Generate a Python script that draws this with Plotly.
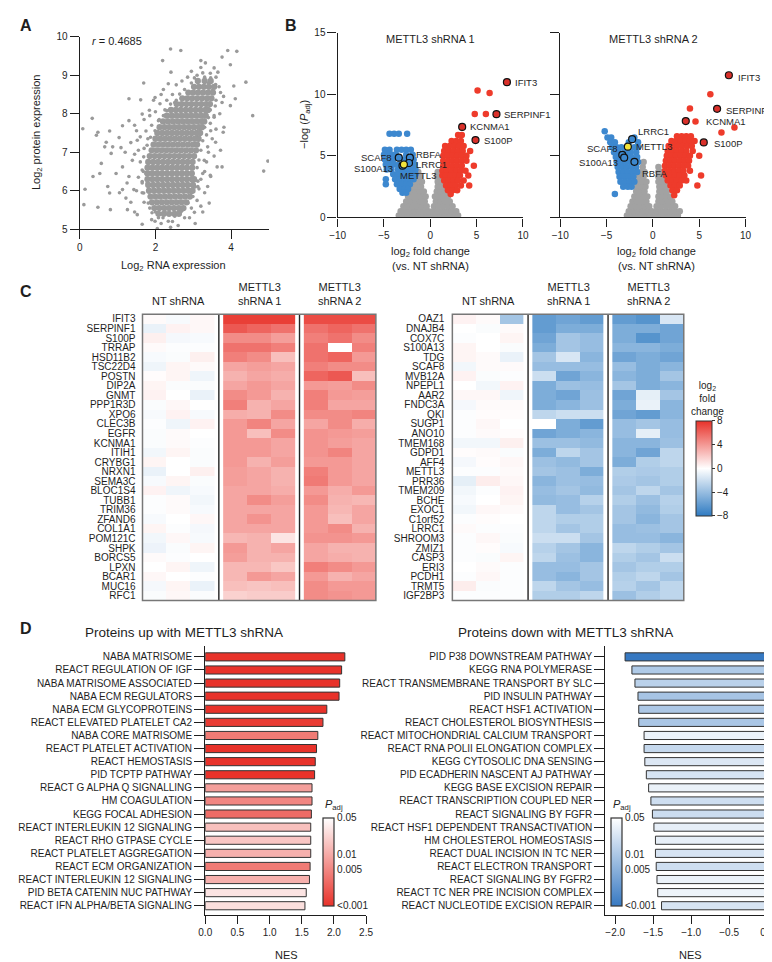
import math
import plotly.graph_objects as go

W, H = 772, 962
FONT = "Liberation Sans, Arial, sans-serif"
INK = "#1e1e1e"

def fx(p):
    return p / W

def fy(p):
    return 1 - p / H

def dom_x(a, b):
    return [fx(a), fx(b)]

def dom_y(top, bottom):
    return [fy(bottom), fy(top)]

# ---------------- Panel A data (RNA vs protein) ----------------
core_rows = [
    (5.40, [2.08, 2.22, 2.36, 2.50, 2.62]),
    (5.55, [1.97, 2.10, 2.23, 2.36, 2.49, 2.62, 2.74]),
    (5.70, [1.91, 2.04, 2.17, 2.30, 2.43, 2.56, 2.69, 2.82]),
    (5.85, [1.87, 2.00, 2.13, 2.26, 2.39, 2.52, 2.65, 2.78, 2.91]),
    (6.00, [1.83, 1.96, 2.09, 2.22, 2.35, 2.48, 2.61, 2.74, 2.87, 2.98]),
    (6.15, [1.81, 1.94, 2.07, 2.20, 2.33, 2.46, 2.59, 2.72, 2.85, 2.99]),
    (6.30, [1.79, 1.92, 2.05, 2.18, 2.31, 2.44, 2.57, 2.70, 2.83, 2.96, 3.02]),
    (6.45, [1.79, 1.92, 2.05, 2.18, 2.31, 2.44, 2.57, 2.70, 2.83, 2.96]),
    (6.60, [1.79, 1.92, 2.05, 2.18, 2.31, 2.44, 2.57, 2.70, 2.83, 2.97]),
    (6.75, [1.81, 1.94, 2.07, 2.20, 2.33, 2.46, 2.59, 2.72, 2.85, 2.98]),
    (6.90, [1.85, 1.98, 2.11, 2.24, 2.37, 2.50, 2.63, 2.76, 2.89, 3.02]),
    (7.05, [1.90, 2.03, 2.16, 2.29, 2.42, 2.55, 2.68, 2.81, 2.94, 3.07]),
    (7.20, [1.95, 2.08, 2.21, 2.34, 2.47, 2.60, 2.73, 2.86, 2.99, 3.10]),
    (7.35, [2.00, 2.13, 2.26, 2.39, 2.52, 2.65, 2.78, 2.91, 3.04, 3.14]),
    (7.50, [2.05, 2.18, 2.31, 2.44, 2.57, 2.70, 2.83, 2.96, 3.09, 3.18]),
    (7.65, [2.11, 2.24, 2.37, 2.50, 2.63, 2.76, 2.89, 3.02, 3.15, 3.23]),
    (7.80, [2.20, 2.33, 2.46, 2.59, 2.72, 2.85, 2.98, 3.11, 3.24, 3.29]),
    (7.95, [2.30, 2.43, 2.56, 2.69, 2.82, 2.95, 3.08, 3.21, 3.33]),
    (8.10, [2.41, 2.54, 2.67, 2.80, 2.93, 3.06, 3.19, 3.32, 3.39]),
    (8.25, [2.56, 2.69, 2.82, 2.95, 3.08, 3.21, 3.34, 3.44]),
    (8.40, [2.71, 2.84, 2.97, 3.10, 3.23, 3.36, 3.48]),
    (8.55, [2.87, 3.00, 3.13, 3.26, 3.39, 3.52]),
    (8.70, [3.02, 3.15, 3.28, 3.41, 3.55]),
    (8.85, [3.12, 3.30, 3.46]),
]

sparse_rna = [2.40, 2.67, 3.91, 4.15, 2.19, 1.69, 4.39, 4.57, 4.97, 4.86, 0.33, 0.08, 0.48, 0.44, 0.79,
              0.70, 0.66, 0.87, 1.04, 0.83, 1.09, 0.57, 0.35, 0.53, 0.74, 0.79, 0.14, 0.11, 0.48, 0.81,
              1.13, 0.96, 1.30, 1.13, 1.39, 1.22, 1.26, 1.52, 1.65, 1.43, 1.50, 1.30, 1.65, 1.84, 1.13,
              1.52, 1.30, 1.61, 1.99, 2.12, 2.21, 2.34, 2.41, 3.20, 3.32, 3.55, 3.65, 3.76, 3.98, 4.07,
              4.11, 3.98, 3.81, 3.79, 3.59, 3.72, 3.63, 3.76, 3.46, 3.38, 3.42, 3.20, 3.03, 2.77, 2.51,
              2.08, 1.91, 1.81, 1.69, 1.65, 1.65, 1.69, 1.78, 1.87, 1.99, 2.08, 2.21, 2.30, 2.51, 2.64,
              2.77, 2.95, 3.03, 3.25, 3.46, 3.59, 3.72, 3.76, 3.55, 3.46, 3.38, 3.29, 3.25, 3.12, 2.99,
              2.86, 2.25, 1.78, 1.75, 1.99, 2.34, 2.69,
              1.05, 1.35, 1.45, 1.25, 1.55, 1.50, 1.60, 1.45, 1.20, 1.35, 1.55, 1.60, 1.75, 1.45, 1.70,
              1.85, 2.00, 1.95, 2.15, 2.30, 2.45, 2.55, 2.70, 2.85, 2.95, 3.10, 3.20, 3.45, 3.60, 3.68,
              3.80, 3.60, 3.70, 3.55, 3.45, 3.60, 3.50, 3.35, 3.40, 3.55, 3.35, 3.30, 3.45, 3.20, 3.15,
              3.30, 3.10, 3.25, 2.95, 2.90, 2.60, 2.45, 2.20, 2.00, 1.85, 1.70, 1.65, 2.15, 2.60, 2.05,
              2.40, 1.90, 3.05, 1.68, 1.65, 1.70, 1.80, 1.90, 2.10, 2.25, 2.40, 2.55, 3.50, 3.40, 3.30,
              3.58, 3.45, 3.40, 3.30, 3.25, 3.20, 3.15, 3.10, 3.12, 3.05, 2.95]
sparse_protein = [9.68, 9.64, 9.64, 9.62, 9.38, 8.80, 8.82, 7.95, 6.77, 6.51, 7.88, 7.61, 7.52, 7.44, 7.55,
                  7.26, 7.14, 7.14, 7.38, 6.97, 7.12, 6.71, 6.37, 6.45, 6.11, 5.94, 6.04, 5.64, 5.57, 5.51,
                  6.03, 6.45, 6.37, 6.62, 6.79, 5.81, 5.51, 5.38, 5.13, 6.03, 7.56, 7.82, 7.99, 8.09, 7.69,
                  7.31, 8.39, 8.36, 8.42, 8.26, 8.63, 8.78, 9.08, 9.38, 9.32, 9.19, 9.08, 9.47, 9.27, 8.72,
                  8.39, 8.21, 7.65, 7.52, 7.26, 7.05, 6.62, 6.62, 6.37, 6.11, 5.68, 5.60, 5.44, 5.30, 5.34,
                  5.30, 5.43, 5.68, 5.94, 6.24, 6.54, 6.88, 7.18, 7.39, 7.56, 7.82, 7.95, 8.08, 8.29, 8.51,
                  8.63, 8.80, 8.93, 9.06, 8.93, 8.76, 8.55, 8.29, 7.91, 7.56, 7.14, 6.79, 6.45, 6.11, 5.85,
                  5.68, 5.47, 6.20, 6.45, 5.21, 5.21, 5.47,
                  5.95, 5.70, 5.45, 6.20, 6.35, 6.00, 6.75, 6.95, 7.00, 7.25, 7.05, 7.40, 7.55, 7.70, 7.85,
                  7.95, 8.05, 8.35, 8.50, 8.35, 8.50, 8.75, 8.85, 8.95, 9.10, 9.00, 9.20, 9.05, 8.95, 8.70,
                  8.45, 8.35, 8.00, 7.95, 7.75, 7.60, 7.35, 7.45, 7.00, 6.90, 6.75, 6.50, 6.40, 6.30, 6.05,
                  5.95, 5.75, 5.45, 5.55, 5.30, 5.45, 5.20, 5.30, 5.45, 5.55, 5.70, 5.95, 5.15, 5.10, 5.02,
                  5.05, 5.25, 5.15, 6.50, 6.20, 7.10, 7.35, 7.70, 7.85, 8.10, 8.25, 8.35, 8.60, 8.80, 8.95,
                  8.20, 8.10, 7.90, 7.65, 7.30, 7.05, 6.80, 6.60, 6.25, 6.10, 5.95]
r_value = 0.4685

# ---------------- Panel B data (volcano plots) ----------------
v1_grey_rows = [
    (0.15, [-3.4, -2.9, -2.4, -1.9, -1.4, -0.9, -0.4, 0.1, 0.6, 1.1, 1.6, 2.1, 2.6, 3.0]),
    (0.50, [-3.2, -2.7, -2.2, -1.7, -1.2, -0.7, -0.2, 0.3, 0.8, 1.3, 1.8, 2.3, 2.8]),
    (0.90, [-2.9, -2.4, -1.9, -1.4, -0.9, -0.4, 0.4, 0.9, 1.4, 1.9, 2.4]),
    (1.30, [-2.6, -2.1, -1.6, -1.1, -0.6, 0.6, 1.1, 1.6, 2.1]),
    (1.70, [-2.4, -1.9, -1.4, -0.9, -0.5, 0.5, 0.9, 1.4, 1.9]),
    (2.10, [-2.1, -1.6, -1.1, -0.7, 0.7, 1.1, 1.6]),
    (2.50, [-1.9, -1.4, -1.0, 0.8, 1.2, 1.5]),
    (2.90, [-1.7, -1.3, -0.9, 0.8, 1.2]),
    (3.30, [-1.5, -1.1, 0.7, 1.1]),
    (3.70, [-1.3, 0.8]),
]
v1_blue_rows = [
    (6.80, [-4.4, -3.9, -3.4, -2.5]),
    (5.50, [-4.9, -4.4, -3.6, -3.1, -2.6, -2.1]),
    (5.10, [-5.0, -4.6, -4.1, -3.7, -2.6, -1.9]),
    (4.70, [-4.9, -4.4, -4.0, -2.8, -1.8]),
    (4.30, [-4.8, -4.3, -3.9, -3.4, -2.4, -1.7]),
    (3.90, [-4.7, -4.2, -3.5, -3.0, -2.5, -2.0, -1.6]),
    (3.50, [-4.0, -3.5, -3.0, -2.5, -2.0, -1.6]),
    (3.10, [-4.8, -3.8, -3.3, -2.8, -2.3, -1.8]),
    (2.70, [-4.8, -3.6, -3.1, -2.6, -2.2]),
    (2.30, [-3.3, -2.8, -2.4]),
    (2.00, [-3.0, -2.6]),
]
v1_red_rows = [
    (10.3, [5.1]), (10.1, [6.4]), (8.4, [4.8, 6.0]),
    (6.7, [3.0, 3.4]),
    (6.2, [2.3, 2.8, 3.3]),
    (5.8, [1.6, 2.1, 2.6, 3.1, 3.6]),
    (5.4, [1.5, 2.0, 2.5, 3.0, 3.5, 4.3]),
    (5.0, [1.4, 1.9, 2.4, 2.9, 3.4, 3.9]),
    (4.6, [1.4, 1.9, 2.4, 2.9, 3.4, 3.9]),
    (4.2, [1.4, 1.9, 2.4, 2.9, 3.4, 4.7]),
    (3.8, [1.3, 1.8, 2.3, 2.8, 3.3, 3.8]),
    (3.4, [1.3, 1.7, 2.2, 2.7, 3.2, 4.1]),
    (3.0, [1.5, 2.0, 2.5, 3.0, 3.6]),
    (2.6, [1.7, 2.2, 2.7, 3.3, 4.2]),
    (2.2, [1.9, 2.4, 2.9]),
    (1.9, [2.2]),
]
v2_grey_rows = [
    (0.15, [-2.8, -2.3, -1.8, -1.3, -0.8, -0.3, 0.2, 0.7, 1.2, 1.7, 2.2, 2.7]),
    (0.50, [-2.6, -2.1, -1.6, -1.1, -0.6, -0.1, 0.4, 0.9, 1.4, 1.9, 2.4, 2.9]),
    (0.90, [-2.4, -1.9, -1.4, -0.9, -0.4, 0.4, 0.9, 1.4, 1.9, 2.4]),
    (1.30, [-2.2, -1.7, -1.2, -0.7, 0.6, 1.1, 1.6, 2.1]),
    (1.70, [-2.0, -1.5, -1.0, -0.6, 0.6, 1.0, 1.5, 1.9]),
    (2.10, [-1.8, -1.4, -0.9, 0.7, 1.1, 1.5]),
    (2.50, [-1.7, -1.2, -0.8, 0.7, 1.1, 1.4]),
    (2.90, [-1.6, -1.1, -0.7, 0.6, 1.0, 1.3]),
    (3.30, [-1.5, -1.0, 0.6, 1.0]),
    (3.70, [-1.3, -0.9, 0.6, 0.9]),
    (4.10, [-1.1, 0.6]),
    (4.50, [-1.0]),
]
v2_blue_rows = [
    (7.0, [-5.2]),
    (6.5, [-4.9, -4.5, -2.0]),
    (6.1, [-4.6, -4.1, -2.6, -1.6]),
    (5.7, [-4.4, -3.9, -3.4, -2.0, -1.6]),
    (5.3, [-4.2, -3.7, -3.0, -2.4, -1.8]),
    (4.9, [-4.0, -3.5, -2.8, -2.3, -1.7]),
    (4.5, [-3.9, -3.4, -2.9, -2.4, -1.6]),
    (4.1, [-3.8, -3.3, -2.8, -2.3, -1.8]),
    (3.7, [-3.7, -3.2, -2.7, -2.2, -1.7]),
    (3.3, [-3.6, -3.1, -2.6, -2.1]),
    (2.9, [-3.5, -3.0, -2.5, -2.0]),
    (2.5, [-3.2, -2.7, -2.3]),
    (1.9, [-4.1]),
]
v2_red_rows = [
    (10.0, [6.2]), (8.85, [4.0]), (7.8, [4.6]), (7.3, [8.8]), (6.9, [7.4]),
    (6.6, [2.6, 3.1, 3.6, 4.1]),
    (6.2, [2.0, 2.5, 3.0, 3.5, 4.0, 4.5]),
    (5.8, [1.7, 2.2, 2.7, 3.2, 3.7, 4.2]),
    (5.4, [1.6, 2.1, 2.6, 3.1, 3.6, 4.3]),
    (5.0, [1.5, 2.0, 2.5, 3.0, 3.5, 4.0, 5.0]),
    (4.6, [1.4, 1.9, 2.4, 2.9, 3.4, 3.9]),
    (4.2, [1.3, 1.8, 2.3, 2.8, 3.3, 3.8]),
    (3.8, [1.3, 1.8, 2.3, 2.8, 3.3, 4.0]),
    (3.4, [1.4, 1.9, 2.4, 2.9, 3.4, 5.2]),
    (3.0, [1.6, 2.1, 2.6, 3.1, 3.6]),
    (2.6, [1.9, 2.4, 2.9, 4.8]),
    (2.2, [2.1, 2.6]),
    (1.8, [2.3]),
]
hl_names = ["IFIT3", "SERPINF1", "KCNMA1", "S100P", "SCAF8", "RBFA", "LRRC1", "S100A13", "METTL3"]
v1_hl_x = [8.27, 7.14, 3.44, 4.88, -3.40, -2.20, -2.30, -3.00, -2.85]
v1_hl_y = [10.99, 8.39, 7.35, 6.28, 4.85, 4.85, 4.42, 4.20, 4.30]
v2_hl_x = [8.20, 6.93, 3.55, 5.49, -3.30, -1.99, -2.24, -3.10, -2.70]
v2_hl_y = [11.55, 8.82, 7.83, 6.09, 5.08, 4.52, 6.36, 4.85, 5.75]

# ---------------- Panel C data (log2 fold change heatmaps) ----------------
groups = ["NT shRNA", "METTL3<br>shRNA 1", "METTL3<br>shRNA 2"]
up_genes = ["IFIT3", "SERPINF1", "S100P", "TRRAP", "HSD11B2", "TSC22D4", "POSTN", "DIP2A", "GNMT", "PPP1R3D",
            "XPO6", "CLEC3B", "EGFR", "KCNMA1", "ITIH1", "CRYBG1", "NRXN1", "SEMA3C", "BLOC1S4", "TUBB1",
            "TRIM36", "ZFAND6", "COL1A1", "POM121C", "SHPK", "BORCS5", "LPXN", "BCAR1", "MUC16", "RFC1"]
up_values = [
    [0.2, -0.3, 0.3, 7.5, 7.5, 7.5, 7.0, 7.0, 7.0],
    [-0.8, 0.5, 0.3, 6.5, 6.0, 5.5, 5.5, 6.0, 5.5],
    [0.6, -0.4, -0.3, 4.5, 4.5, 3.8, 5.0, 5.5, 4.5],
    [0.2, -0.1, -0.1, 5.5, 5.5, 5.0, 5.5, None, 5.0],
    [-0.3, -0.2, 0.6, 5.0, 4.5, 2.5, 5.5, 6.0, 4.0],
    [-0.6, 0.4, 0.2, 3.5, 3.8, 3.5, 5.0, 4.5, 4.5],
    [0.1, 0.4, -0.6, 3.0, 3.5, 3.2, 6.0, 6.5, 2.5],
    [0.4, -0.2, -0.2, 3.5, 4.0, 3.5, 4.0, 3.8, 4.5],
    [0.5, 0.0, -0.8, 4.5, 4.0, 3.0, 5.0, 4.0, 3.8],
    [-0.2, 0.3, 0.0, 5.0, 3.0, 3.5, 5.0, 3.5, 3.5],
    [-0.3, 0.5, -0.3, 3.2, 3.0, 4.5, 4.5, 4.5, 4.8],
    [-0.1, -0.6, 0.5, 4.0, 4.8, 3.5, 3.5, 4.5, 3.2],
    [-0.2, 0.2, 0.0, 4.0, 2.5, 4.5, 4.2, 4.0, 3.8],
    [-0.2, 0.2, -0.1, 4.0, 4.0, 3.5, 4.2, 3.8, 3.5],
    [-0.5, 0.4, -0.2, 4.0, 4.0, 3.5, 4.2, 4.8, 3.5],
    [0.4, 0.0, -0.2, 4.0, 3.0, 3.8, 4.0, 4.0, 3.5],
    [-0.8, 0.0, 0.6, 3.8, 3.5, 3.0, 5.0, 4.0, 3.5],
    [-0.3, 0.4, -0.2, 3.8, 3.5, 3.0, 5.2, 4.0, 3.5],
    [0.5, -0.6, -0.3, 3.5, 3.5, 3.2, 4.0, 3.2, 4.0],
    [-0.1, 0.2, -0.5, 3.5, 4.5, 3.8, 4.5, 3.0, 2.8],
    [-0.1, 0.2, -0.3, 3.5, 3.5, 3.5, 4.0, 2.8, 3.5],
    [-0.3, 0.0, 0.3, 3.5, 4.2, 3.5, 4.0, 2.5, 3.5],
    [0.4, -0.1, -0.4, 3.5, 3.5, 3.5, 4.0, 4.5, 3.0],
    [-0.5, 0.3, -0.3, 2.8, 3.0, 1.0, 4.2, 4.2, 4.0],
    [-0.7, -0.2, 0.4, 4.0, 3.0, 3.5, 3.5, 3.0, 3.0],
    [0.2, -0.1, 0.0, 3.8, 3.0, 3.0, 3.5, 3.2, 3.0],
    [0.0, 0.4, -0.6, 2.8, 2.8, 2.2, 5.0, 4.5, 4.0],
    [0.3, 0.0, -0.1, 2.8, 4.0, 3.5, 4.0, 3.0, 3.5],
    [-0.4, 0.4, -0.8, 2.5, 2.3, 2.5, 4.5, 4.0, 4.0],
    [-0.2, 0.3, -0.2, 1.8, 2.0, 2.0, 4.5, 4.2, 4.0],
]
down_genes = ["OAZ1", "DNAJB4", "COX7C", "S100A13", "TDG", "SCAF8", "MVB12A", "NPEPL1", "AAR2", "FNDC3A",
              "QKI", "SUGP1", "ANO10", "TMEM168", "GDPD1", "AFF4", "METTL3", "PRR36", "TMEM209", "BCHE",
              "EXOC1", "C1orf52", "LRRC1", "SHROOM3", "ZMIZ1", "CASP3", "ERI3", "PCDH1", "TRMT5", "IGF2BP3"]
down_values = [
    [0.5, 0.2, -3.5, -6.0, -5.5, -6.0, -6.0, -6.5, -1.5],
    [0.0, -0.2, 0.2, -6.0, -5.0, -5.0, -5.0, -5.0, -5.5],
    [-0.1, 0.0, 0.4, -5.5, -3.5, -4.0, -5.0, -6.5, -5.5],
    [0.4, 0.0, -0.2, -5.0, -3.5, -4.0, -4.5, -4.5, -5.0],
    [0.4, 0.2, -0.8, -3.5, -1.5, -4.5, -5.5, -5.0, -5.5],
    [-0.5, 0.2, 0.2, -4.0, -4.0, -4.0, -4.0, -5.0, -4.5],
    [0.5, -0.2, -0.1, -2.0, -5.5, -4.5, -4.5, -5.0, -3.5],
    [0.0, -0.5, 0.5, -5.0, -3.8, -4.0, -3.5, -5.0, -4.5],
    [0.3, 0.3, -0.6, -5.0, -5.5, -3.8, -5.5, -1.0, -3.5],
    [-0.4, 0.2, 0.2, -5.0, -4.5, -3.8, -5.0, -0.8, -4.5],
    [-0.1, 0.1, 0.1, -2.5, -2.0, -2.0, -5.5, -6.0, -4.5],
    [-0.1, 0.3, 0.0, 0.0, -5.0, -6.0, -4.0, -3.5, -4.0],
    [-0.1, 0.2, 0.1, -5.5, -5.0, -4.5, -4.0, -1.0, -4.0],
    [-0.5, -0.5, 0.6, -3.8, -3.8, -4.2, -4.5, -4.5, -3.8],
    [0.1, 0.2, -0.2, -5.0, -2.5, -3.5, -4.5, -5.5, -2.5],
    [-0.4, 0.1, 0.3, -3.8, -4.2, -3.5, -5.0, -3.0, -2.5],
    [-0.1, -0.1, 0.2, -3.5, -3.8, -5.0, -3.0, -3.2, -3.0],
    [-1.0, 0.7, 0.3, -4.5, -3.8, -4.0, -3.2, -3.5, -3.0],
    [-0.5, -0.1, 0.5, -4.0, -3.5, -4.2, -3.5, -2.5, -3.5],
    [-0.3, 0.0, 0.4, -4.2, -4.0, -2.8, -3.0, -3.8, -2.8],
    [-0.5, 0.3, 0.2, -2.5, -4.0, -3.5, -3.5, -4.2, -3.0],
    [-0.1, 0.1, 0.0, -2.5, -3.0, -3.0, -3.5, -4.5, -3.5],
    [0.2, -0.1, -0.1, -2.5, -3.5, -3.0, -4.0, -3.8, -3.5],
    [-0.1, 0.3, -0.2, -2.0, -2.0, -3.5, -4.0, -4.0, -4.5],
    [-0.1, 0.1, -0.3, -2.8, -3.5, -4.5, -2.5, -3.0, -3.5],
    [-0.1, -0.2, 0.4, -2.5, -3.8, -4.5, -3.0, -3.5, -2.0],
    [0.0, 0.2, -0.1, -4.0, -4.0, -3.5, -3.5, -3.0, -3.0],
    [-0.1, 0.3, -0.1, -4.0, -4.5, -3.5, -3.0, -2.5, -3.5],
    [0.7, -0.2, -0.1, -2.5, -3.5, -4.0, -2.8, -3.5, -2.5],
    [-0.1, -0.1, -0.1, -3.0, -3.0, -2.5, -3.8, -3.0, -2.5],
]
fc_ticks = [-8, -4, 0, 4, 8]

# ---------------- Panel D data (GSEA) ----------------
up_pathways = ["NABA MATRISOME", "REACT REGULATION OF IGF", "NABA MATRISOME ASSOCIATED", "NABA ECM REGULATORS",
               "NABA ECM GLYCOPROTEINS", "REACT ELEVATED PLATELET CA2", "NABA CORE MATRISOME",
               "REACT PLATELET ACTIVATION", "REACT HEMOSTASIS", "PID TCPTP PATHWAY",
               "REACT G ALPHA Q SIGNALLING", "HM COAGULATION", "KEGG FOCAL ADHESION",
               "REACT INTERLEUKIN 12 SIGNALING", "REACT RHO GTPASE CYCLE", "REACT PLATELET AGGREGATION",
               "REACT ECM ORGANIZATION", "REACT INTERLEUKIN 12 SIGNALING", "PID BETA CATENIN NUC PATHWAY",
               "REACT IFN ALPHA/BETA SIGNALING"]
up_nes = [2.17, 2.12, 2.09, 2.08, 1.89, 1.83, 1.75, 1.73, 1.71, 1.70,
          1.66, 1.66, 1.65, 1.64, 1.64, 1.64, 1.63, 1.62, 1.57, 1.55]
up_padj = [0.001, 0.001, 0.001, 0.001, 0.001, 0.0012, 0.004, 0.001, 0.001, 0.001,
           0.008, 0.005, 0.003, 0.015, 0.017, 0.011, 0.004, 0.011, 0.03, 0.027]
down_pathways = ["PID P38 DOWNSTREAM PATHWAY", "KEGG RNA POLYMERASE", "REACT TRANSMEMBRANE TRANSPORT BY SLC",
                 "PID INSULIN PATHWAY", "REACT HSF1 ACTIVATION", "REACT CHOLESTEROL BIOSYNTHESIS",
                 "REACT MITOCHONDRIAL CALCIUM TRANSPORT", "REACT RNA POLII ELONGATION COMPLEX",
                 "KEGG CYTOSOLIC DNA SENSING", "PID ECADHERIN NASCENT AJ PATHWAY", "KEGG BASE EXCISION REPAIR",
                 "REACT TRANSCRIPTION COUPLED NER", "REACT SIGNALING BY FGFR",
                 "REACT HSF1 DEPENDENT TRANSACTIVATION", "HM CHOLESTEROL HOMEOSTASIS",
                 "REACT DUAL INCISION IN TC NER", "REACT ELECTRON TRANSPORT", "REACT SIGNALING BY FGFR2",
                 "REACT TC NER PRE INCISION COMPLEX", "REACT NUCLEOTIDE EXCISION REPAIR"]
down_nes = [-1.87, -1.78, -1.74, -1.70, -1.69, -1.69, -1.62, -1.62, -1.61, -1.59,
            -1.56, -1.53, -1.51, -1.49, -1.47, -1.47, -1.46, -1.45, -1.44, -1.39]
down_padj = [0.001, 0.0105, 0.013, 0.009, 0.010, 0.0095, 0.034, 0.016, 0.025, 0.023,
             0.034, 0.019, 0.018, 0.031, 0.031, 0.023, 0.019, 0.034, 0.036, 0.023]
padj_ticks = [0.05, 0.01, 0.005, 0.001]
padj_ticktext = ["0.05", "0.01", "0.005", "<0.001"]

# ---------------- styles ----------------
GREY_PT = "#9a9a9a"
V_GREY = "#a2a2a2"
V_BLUE = "#3d88cf"
V_RED = "#ee3b2b"
HL_RED = "#d9302a"
YELLOW = "#f3e33b"
HEAT_SCALE = [[0, "#2f7bc2"], [0.5, "#ffffff"], [1, "#e8322a"]]
RED_SCALE = [[0, "#e8322a"], [1, "#ffffff"]]
BLUE_SCALE = [[0, "#3779c2"], [1, "#ffffff"]]

def flat(rows):
    xs, ys = [], []
    for yv, xl in rows:
        for xv in xl:
            xs.append(xv)
            ys.append(yv)
    return xs, ys

def logp(p):
    return math.log10(max(p, 0.001))

fig = go.Figure()

# Panel A
cx, cy = flat(core_rows)
fig.add_trace(go.Scatter(x=cx, y=cy, mode="markers", marker=dict(size=6.3, color=GREY_PT),
                         xaxis="x", yaxis="y", hoverinfo="skip"))
fig.add_trace(go.Scatter(x=sparse_rna, y=sparse_protein, mode="markers",
                         marker=dict(size=3.6, color=GREY_PT), xaxis="x", yaxis="y", hoverinfo="skip"))

# Panel B
for (grey, blue, red, hx, hy, xa, ya) in [
    (v1_grey_rows, v1_blue_rows, v1_red_rows, v1_hl_x, v1_hl_y, "x2", "y2"),
    (v2_grey_rows, v2_blue_rows, v2_red_rows, v2_hl_x, v2_hl_y, "x3", "y3"),
]:
    for rows, col in [(grey, V_GREY), (blue, V_BLUE), (red, V_RED)]:
        xs, ys = flat(rows)
        fig.add_trace(go.Scatter(x=xs, y=ys, mode="markers", marker=dict(size=6.5, color=col),
                                 xaxis=xa, yaxis=ya, hoverinfo="skip"))
    fills = []
    for nm, xv in zip(hl_names, hx):
        if nm == "METTL3":
            fills.append(YELLOW)
        elif xv > 0:
            fills.append(HL_RED)
        else:
            fills.append(V_BLUE)
    fig.add_trace(go.Scatter(x=hx, y=hy, mode="markers",
                             marker=dict(size=7, color=fills, line=dict(color="#111", width=1.2)),
                             xaxis=xa, yaxis=ya, hoverinfo="skip"))

# Panel C heatmaps
GAP = 0.36
def col_positions(g):
    off = g * (3 + GAP)
    return [off, off + 1, off + 2]

for genes, values, xa, ya in [(up_genes, up_values, "x4", "y4"), (down_genes, down_values, "x5", "y5")]:
    rows_idx = list(range(len(genes)))
    for g in range(3):
        z = [row[3 * g:3 * g + 3] for row in values]
        fig.add_trace(go.Heatmap(z=z, x=col_positions(g), y=rows_idx, coloraxis="coloraxis",
                                 xaxis=xa, yaxis=ya, hoverinfo="skip"))

# Panel D bars
fig.add_trace(go.Bar(x=up_nes, y=list(range(len(up_nes))), orientation="h", width=0.62,
                     marker=dict(color=[logp(p) for p in up_padj], coloraxis="coloraxis2",
                                 line=dict(color="#333", width=1)),
                     xaxis="x6", yaxis="y6", hoverinfo="skip"))
fig.add_trace(go.Bar(x=down_nes, y=list(range(len(down_nes))), orientation="h", width=0.62,
                     marker=dict(color=[logp(p) for p in down_padj], coloraxis="coloraxis3",
                                 line=dict(color="#333", width=1)),
                     xaxis="x7", yaxis="y7", hoverinfo="skip"))

# ---------------- layout ----------------
def ax(**kw):
    base = dict(showgrid=False, zeroline=False, showline=True, linecolor=INK, linewidth=1.3,
                ticks="outside", tickcolor=INK, tickwidth=1.3, tickfont=dict(size=10, color=INK))
    base.update(kw)
    return base

def heat_y(genes, standoff):
    n = len(genes)
    return dict(domain=dom_y(304, 594), range=[n - 0.5, -0.5], tickmode="array",
                tickvals=list(range(n)), ticktext=genes, showline=False, ticks="", showgrid=False,
                zeroline=False, tickfont=dict(size=10, color=INK), ticklabelstandoff=standoff)

n_up = len(up_nes)
heat_range = [-0.5, 2 * (3 + GAP) + 2.5]
bar_top_px, bar_bot_px = 640, 912
first_c, last_c = 651, 903
spacing = (last_c - first_c) / (n_up - 1)
bar_yrange = [n_up - 1 + (bar_bot_px - last_c) / spacing, -(first_c - bar_top_px) / spacing]

def padj_bar(xpos, scale):
    return dict(colorscale=scale, cmin=logp(padj_ticks[-1]), cmax=logp(padj_ticks[0]),
                colorbar=dict(x=fx(xpos), xanchor="left", xpad=0, y=fy(814), yanchor="top", ypad=0,
                              len=88, lenmode="pixels", thickness=11, thicknessmode="pixels",
                              outlinewidth=1.2, outlinecolor="#333", ticks="",
                              tickvals=[logp(p) for p in padj_ticks], ticktext=padj_ticktext,
                              tickfont=dict(size=10, color=INK)))

yaxis4 = heat_y(up_genes, 6)
yaxis4["anchor"] = "x4"
yaxis5 = heat_y(down_genes, 7)
yaxis5["anchor"] = "x5"

layout = dict(
    width=W, height=H, margin=dict(l=0, r=0, t=0, b=0),
    paper_bgcolor="white", plot_bgcolor="white", showlegend=False,
    font=dict(family=FONT, size=10, color=INK),
    xaxis=ax(domain=dom_x(65, 258), range=[0, 5], tickvals=[0, 2, 4], ticklen=9, anchor="y"),
    yaxis=ax(domain=dom_y(23, 218), range=[5, 10], tickvals=[5, 6, 7, 8, 9, 10], ticklen=9, anchor="x"),
    xaxis2=ax(domain=dom_x(328, 517), range=[-10, 10], tickvals=[-10, -5, 0, 5, 10], ticklen=8, anchor="y2"),
    yaxis2=ax(domain=dom_y(19, 206), range=[0, 15], tickvals=[0, 5, 10, 15], ticklen=9, anchor="x2"),
    xaxis3=ax(domain=dom_x(555, 744), range=[-10, 10], tickvals=[-10, -5, 0, 5, 10], ticklen=8, anchor="y3"),
    yaxis3=ax(domain=dom_y(19, 206), range=[0, 15], tickvals=[0, 5, 10, 15], ticklen=9,
              showticklabels=False, anchor="x3"),
    xaxis4=dict(domain=dom_x(129, 367), range=heat_range, visible=False, anchor="y4"),
    yaxis4=yaxis4,
    xaxis5=dict(domain=dom_x(445, 681), range=heat_range, visible=False, anchor="y5"),
    yaxis5=yaxis5,
    xaxis6=ax(domain=dom_x(193, 357), range=[0, 2.5], tickvals=[0, 0.5, 1, 1.5, 2, 2.5], tickformat=".1f",
              ticklen=8, anchor="y6"),
    yaxis6=ax(domain=dom_y(bar_top_px, bar_bot_px), range=bar_yrange, tickvals=list(range(n_up)),
              ticktext=up_pathways, ticklen=10, anchor="x6"),
    xaxis7=ax(domain=dom_x(601, 766), range=[-2.13, 0], tickvals=[-2, -1.5, -1, -0.5, 0], tickformat=".1f",
              ticklen=8, zeroline=True, zerolinecolor="#777", zerolinewidth=1.5, anchor="y7"),
    yaxis7=ax(domain=dom_y(bar_top_px, bar_bot_px), range=bar_yrange, tickvals=list(range(len(down_nes))),
              ticktext=down_pathways, ticklen=10, anchor="x7"),
    coloraxis=dict(colorscale=HEAT_SCALE, cmin=fc_ticks[0], cmax=fc_ticks[-1],
                   colorbar=dict(x=fx(693), xanchor="left", xpad=0, y=fy(412), yanchor="top", ypad=0,
                                 len=95, lenmode="pixels", thickness=16, thicknessmode="pixels",
                                 outlinewidth=1, outlinecolor="#333", tickvals=fc_ticks, ticks="outside",
                                 ticklen=3, tickcolor="#333", tickfont=dict(size=10, color=INK))),
    coloraxis2=padj_bar(313, RED_SCALE),
    coloraxis3=padj_bar(607, BLUE_SCALE),
)

ann = []
def note(text, x, y, size=11, xanchor="center", yanchor="middle", angle=0, bold=False):
    t = f"<b>{text}</b>" if bold else text
    ann.append(dict(text=t, x=fx(x), y=fy(y), xref="paper", yref="paper", showarrow=False,
                    xanchor=xanchor, yanchor=yanchor, textangle=angle,
                    font=dict(size=size, color=INK, family=FONT)))

# panel letters
note("A", 2, 12, size=16, xanchor="left", bold=True)
note("B", 272, 12, size=16, xanchor="left", bold=True)
note("C", 2, 281, size=16, xanchor="left", bold=True)
note("D", 2, 622, size=16, xanchor="left", bold=True)

# Panel A text
note(f"<i>r</i> = {r_value}", 75, 27, size=11, xanchor="left")
note("Log<sub>2</sub> protein expression", 21, 120, size=11, angle=-90)
note("Log<sub>2</sub> RNA expression", 161, 255, size=11)

# Panel B text
note("METTL3 shRNA 1", 423, 25, size=11)
note("METTL3 shRNA 2", 650, 25, size=11)
note("−log (<i>P</i><sub>adj</sub>)", 294, 112, size=11, angle=-90)
for cxp in [423, 653]:
    note("log<sub>2</sub> fold change", cxp, 241, size=11)
    note("(vs. NT shRNA)", cxp, 255, size=11)

label_style = {
    "x2": {"IFIT3": ("left", 6, 0), "SERPINF1": ("left", 6, 0), "KCNMA1": ("left", 6, 0),
           "S100P": ("left", 6, 0), "SCAF8": ("right", -5, 0), "RBFA": ("left", 4, 3),
           "LRRC1": ("left", 5, -1), "S100A13": ("right", -7, -3), "METTL3": ("left", -6, -11)},
    "x3": {"IFIT3": ("left", 7, -2), "SERPINF1": ("left", 7, -2), "KCNMA1": ("left", 18, 0),
           "S100P": ("left", 8, -1), "SCAF8": ("right", -2, 6), "RBFA": ("left", 6, -12),
           "LRRC1": ("left", 4, 8), "S100A13": ("right", -4, -5), "METTL3": ("left", 6, 0)},
}
for xa, ya, hx, hy in [("x2", "y2", v1_hl_x, v1_hl_y), ("x3", "y3", v2_hl_x, v2_hl_y)]:
    for nm, xv, yv in zip(hl_names, hx, hy):
        anc, sx, sy = label_style[xa][nm]
        ann.append(dict(text=nm, x=xv, y=yv, xref=xa, yref=ya, showarrow=False, xanchor=anc,
                        yanchor="middle", xshift=sx, yshift=sy, font=dict(size=9.5, color=INK, family=FONT)))

# Panel C headers
for (l, r) in [(129, 367), (445, 681)]:
    width_units = heat_range[1] - heat_range[0]
    for g, name in enumerate(groups):
        center_units = col_positions(g)[1] - heat_range[0]
        cxp = l + (r - l) * center_units / width_units
        ann.append(dict(text=name, x=fx(cxp), y=fy(299), xref="paper", yref="paper", showarrow=False,
                        xanchor="center", yanchor="bottom", font=dict(size=11, color=INK, family=FONT)))
note("log<sub>2</sub><br>fold<br>change", 705, 389, size=10)

# Panel D text
note("Proteins up with METTL3 shRNA", 171, 626, size=13.5)
note("Proteins down with METTL3 shRNA", 560, 626, size=13.5)
note("NES", 276, 953, size=11)
note("NES", 688, 953, size=11)
note("<i>P</i><sub>adj</sub>", 313, 801, size=11, xanchor="left")
note("<i>P</i><sub>adj</sub>", 607, 801, size=11, xanchor="left")

layout["annotations"] = ann

shapes = []
for xa, ya in [("x4", "y4"), ("x5", "y5")]:
    for g in (1, 2):
        sep = col_positions(g)[0] - 0.5 - GAP / 2
        shapes.append(dict(type="line", xref=xa, yref=f"{ya} domain", x0=sep, x1=sep, y0=0, y1=1,
                           line=dict(color="#222", width=1.4)))
    shapes.append(dict(type="rect", xref=f"{xa} domain", yref=f"{ya} domain", x0=0, x1=1, y0=0, y1=1,
                       line=dict(color="#777", width=1.5)))
layout["shapes"] = shapes

fig.update_layout(**layout)
fig.write_html("out.html")
